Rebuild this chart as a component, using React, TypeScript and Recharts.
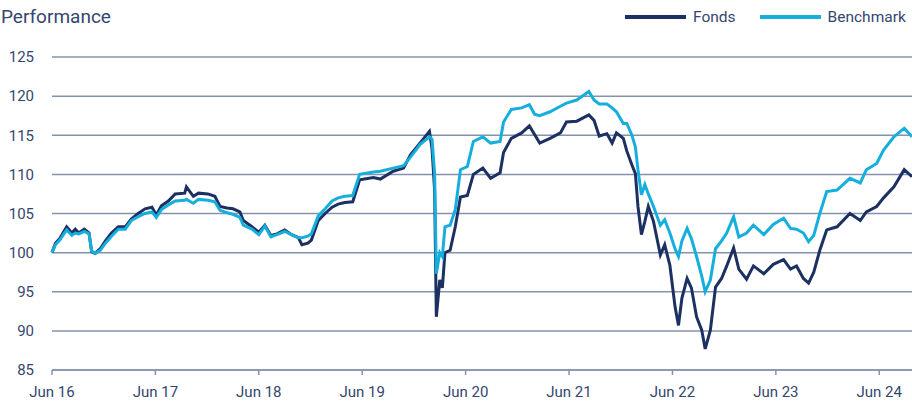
import React from 'react';
import { LineChart, Line, XAxis, YAxis, CartesianGrid } from 'recharts';

// months since Jun 16
const months = [
  0, 0.4, 0.9, 1.7, 2.3, 2.7, 3.1, 3.75, 4.3, 4.6, 5.0, 5.6, 6.2, 6.9, 7.7, 8.5, 9.2, 10.0, 10.8, 11.6,
  12.1, 12.7, 13.5, 14.3, 15.4, 15.6, 16.4, 17.0, 18.1, 18.9, 19.5, 20.3, 21.0, 21.8, 22.2, 23.2, 24.0, 24.7,
  25.4, 26.1, 27.0, 27.8, 28.6, 29.0, 29.7, 30.1, 30.9, 31.7, 32.5, 33.2, 34.0, 34.9, 35.7, 37.3, 38.1, 39.6,
  40.8, 41.6, 42.7, 43.8, 44.1, 44.4, 44.6, 45.0, 45.3, 45.6, 46.2, 46.8, 47.4, 48.2, 48.9, 50.0, 50.9, 52.0,
  52.4, 53.3, 54.5, 55.4, 56.0, 56.6, 57.8, 59.0, 59.7, 60.9, 62.3, 62.9, 63.5, 64.4, 65.0, 65.5, 66.3, 66.7,
  67.3, 67.7, 68.0, 68.4, 68.8, 69.2, 69.8, 70.6, 71.1, 71.7, 72.3, 72.7, 73.1, 73.7, 74.2, 74.8, 75.4, 75.8,
  76.4, 77.0, 77.7, 78.3, 79.1, 79.7, 80.6, 81.4, 82.6, 83.7, 84.9, 85.7, 86.4, 87.2, 87.8, 88.4, 89.1, 89.9,
  91.1, 92.6, 93.8, 94.5, 95.7, 96.5, 97.7, 98.9, 99.8,
];

const fonds = [
  100, 101.2, 101.8, 103.3, 102.5, 103.0, 102.5, 103.0, 102.5, 100.1, 99.9, 100.5, 101.5, 102.5, 103.3, 103.3, 104.3, 105.0, 105.6, 105.8,
  104.8, 106.0, 106.6, 107.5, 107.6, 108.4, 107.2, 107.6, 107.5, 107.2, 105.9, 105.7, 105.6, 105.2, 104.1, 103.3, 102.6, 103.5,
  102.2, 102.4, 102.9, 102.3, 101.9, 101.0, 101.2, 101.6, 104.1, 105.0, 105.8, 106.2, 106.4, 106.5, 109.3, 109.6, 109.4, 110.4,
  110.8, 112.5, 114.0, 115.5, 113.3, 108.0, 91.8, 96.5, 95.5, 100.0, 100.3, 103.3, 107.1, 107.3, 110.0, 110.8, 109.5, 110.2,
  112.8, 114.6, 115.3, 116.2, 115.1, 114.0, 114.6, 115.3, 116.7, 116.8, 117.6, 116.9, 114.9, 115.2, 114.0, 115.3, 114.6, 113.0,
  111.2, 110.1, 105.9, 102.3, 104.0, 105.9, 104.0, 99.7, 101.0, 98.4, 93.1, 90.7, 94.2, 96.7, 95.5, 91.8, 90.1, 87.7,
  90.1, 95.6, 96.7, 98.3, 100.6, 97.9, 96.6, 98.3, 97.3, 98.5, 99.1, 97.9, 98.3, 96.7, 96.1, 97.5, 100.3, 102.9,
  103.3, 105.0, 104.1, 105.2, 105.9, 107.0, 108.4, 110.6, 109.7,
];

const benchmark = [
  100, 101.0, 101.6, 102.9, 102.2, 102.5, 102.4, 102.7, 102.4, 100.2, 99.9, 100.3, 101.2, 102.1, 103.0, 103.0, 104.1, 104.6, 105.0, 105.2,
  104.5, 105.5, 106.1, 106.6, 106.7, 106.8, 106.3, 106.8, 106.7, 106.5, 105.4, 105.1, 104.9, 104.5, 103.5, 103.0, 102.3, 103.4,
  102.0, 102.3, 102.7, 102.3, 101.9, 101.9, 102.1, 102.4, 104.7, 105.6, 106.6, 107.0, 107.2, 107.3, 110.0, 110.3, 110.4, 110.8,
  111.1, 112.2, 113.8, 114.8, 114.5, 110.2, 97.3, 100.0, 99.5, 103.3, 103.5, 105.5, 110.6, 111.0, 114.2, 114.8, 114.0, 114.2,
  116.7, 118.3, 118.5, 118.9, 117.7, 117.5, 118.0, 118.7, 119.1, 119.5, 120.6, 119.5, 119.0, 119.0, 118.5, 118.0, 116.5, 116.5,
  115.0, 113.5, 110.6, 107.4, 108.7, 107.5, 105.9, 103.5, 104.2, 102.5, 100.5, 99.5, 101.5, 103.1, 101.8, 99.5, 97.0, 95.0,
  96.5, 100.5, 101.5, 102.5, 104.6, 102.0, 102.5, 103.5, 102.3, 103.6, 104.4, 103.1, 103.0, 102.5, 101.4, 102.2, 105.0, 107.8,
  108.0, 109.5, 108.9, 110.6, 111.4, 113.1, 114.8, 115.9, 114.8,
];

const xTicks = [0, 12, 24, 36, 48, 60, 72, 84, 96];
const xTickLabels = ['Jun 16', 'Jun 17', 'Jun 18', 'Jun 19', 'Jun 20', 'Jun 21', 'Jun 22', 'Jun 23', 'Jun 24'];
const yTicks = [85, 90, 95, 100, 105, 110, 115, 120, 125];

const series = [
  { key: 'fonds', name: 'Fonds', color: '#1c3062' },
  { key: 'benchmark', name: 'Benchmark', color: '#16afdd' },
];

const data = months.map((m, i) => ({ m, fonds: fonds[i], benchmark: benchmark[i] }));

const textColor = '#34466e';
const gridColor = '#8493ad';
const font = 'Roboto, sans-serif';

function ChartLegend() {
  return (
    <div style={{ position: 'absolute', left: 625, top: 8, display: 'flex', alignItems: 'center', fontFamily: font, fontSize: 15.5, color: textColor, whiteSpace: 'nowrap' }}>
      {series.map((s, i) => (
        <div key={s.key} style={{ display: 'flex', alignItems: 'center', marginLeft: i === 0 ? 0 : 24 }}>
          <div style={{ width: 61, height: 4, background: s.color, marginRight: 7 }} />
          <span>{s.name}</span>
        </div>
      ))}
    </div>
  );
}

export default function App() {
  return (
    <div style={{ position: 'absolute', left: 0, top: 0, width: 912, height: 401, overflow: 'hidden', background: '#fff' }}>
      <LineChart width={912} height={401} data={data} margin={{ top: 57, right: 0, bottom: 0, left: 0 }}>
        <CartesianGrid vertical={false} stroke={gridColor} strokeWidth={1.5} />
        <XAxis
          dataKey="m"
          type="number"
          domain={[0, 99.8]}
          ticks={xTicks}
          tickFormatter={(v: number) => xTickLabels[xTicks.indexOf(v)]}
          height={31}
          axisLine={{ stroke: gridColor, strokeWidth: 1.5 }}
          tickLine={{ stroke: gridColor, strokeWidth: 1.5 }}
          tickSize={5}
          tickMargin={11}
          tick={{ fill: textColor, fontSize: 15, fontFamily: font }}
        />
        <YAxis
          type="number"
          domain={[85, 125]}
          ticks={yTicks}
          width={52}
          axisLine={false}
          tickLine={false}
          tickSize={0}
          tickMargin={18}
          tick={{ fill: textColor, fontSize: 15, fontFamily: font }}
        />
        {series.map((s) => (
          <Line key={s.key} name={s.name} dataKey={s.key} stroke={s.color} strokeWidth={3} dot={false} isAnimationActive={false} />
        ))}
      </LineChart>
      <div style={{ position: 'absolute', left: 1, top: 5, fontFamily: font, fontSize: 19, color: textColor, whiteSpace: 'nowrap' }}>
        Performance
      </div>
      <ChartLegend />
    </div>
  );
}
